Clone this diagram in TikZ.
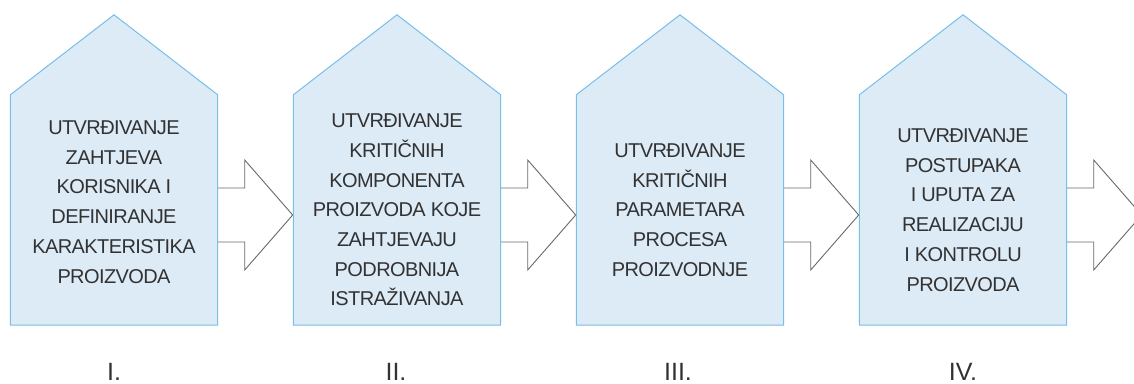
\documentclass[tikz,border=0pt]{standalone}
\usepackage{fontspec}
\setmainfont{Liberation Sans}
\usepackage{tikz}
\definecolor{housefill}{RGB}{221,235,247}
\definecolor{houseline}{RGB}{120,190,232}
\definecolor{txtgray}{RGB}{50,50,50}
\definecolor{arrowgray}{RGB}{105,105,105}

\begin{document}
\begin{tikzpicture}[x=1pt,y=1pt,
  body/.style={minimum width=207pt,minimum height=230pt,inner sep=0pt},
  house/.style={fill=housefill,draw=houseline,line width=1pt},
  steptext/.style={align=center,text=txtgray,inner sep=0pt,font=\fontsize{20}{29.7}\selectfont\addfontfeatures{LetterSpace=-3}},
  blockarr/.style={draw=arrowgray,fill=white,line width=0.9pt},
  numlabel/.style={anchor=base,text=txtgray,font=\fontsize{25}{30}\selectfont}]%
\useasboundingbox (0,0) rectangle (1134,383);%
% house bodies
\foreach \i/\x in {1/114,2/397,3/680,4/963} {%
  \node[body] (h\i) at (\x,173) {};%
}%
% block arrows, each from the east side of a house
\foreach \i in {1,...,4} {%
  \draw[blockarr] ([yshift=-5pt]h\i.east) ++(0,27) -- ++(27,0) -- ++(0,28) -- ++(48,-55) -- ++(-48,-55) -- ++(0,28) -- ++(-27,0);%
}%
% houses
\foreach \i in {1,...,4} {%
  \draw[house] (h\i.south west) -- (h\i.north west) -- ([yshift=80pt]h\i.north) -- (h\i.north east) -- (h\i.south east) -- cycle;%
}%
\node[steptext] (t1) at ([yshift=8pt]h1.center) {UTVRĐIVANJE\\ZAHTJEVA\\KORISNIKA I\\DEFINIRANJE\\KARAKTERISTIKA\\PROIZVODA};%
\node[steptext] (t2) at (h2.center) {UTVRĐIVANJE\\KRITIČNIH\\KOMPONENTA\\PROIZVODA KOJE\\ZAHTJEVAJU\\PODROBNIJA\\ISTRAŽIVANJA};%
\node[steptext] (t3) at (h3.center) {UTVRĐIVANJE\\KRITIČNIH\\PARAMETARA\\PROCESA\\PROIZVODNJE};%
\node[steptext] (t4) at (h4.center) {UTVRĐIVANJE\\POSTUPAKA\\I UPUTA ZA\\REALIZACIJU\\I KONTROLU\\PROIZVODA};%
% step numbers
\node[numlabel] (n1) at (114,3) {I.};%
\node[numlabel] (n2) at (396,3) {II.};%
\node[numlabel] (n3) at (678,3) {III.};%
\node[numlabel] (n4) at (963,3) {IV.};%
\end{tikzpicture}
\end{document}
